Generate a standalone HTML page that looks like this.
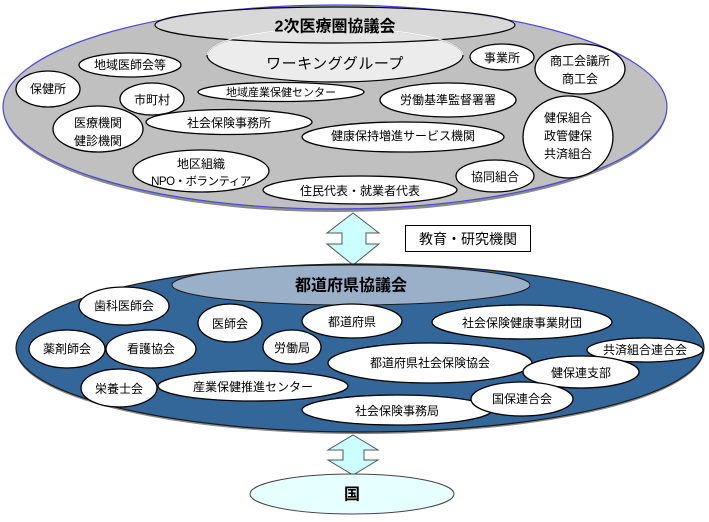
<!DOCTYPE html>
<html><head><meta charset="utf-8"><style>
html,body{margin:0;padding:0;background:#fff;}
svg{display:block;}
text{font-family:"Liberation Sans","Noto Sans CJK JP",sans-serif;fill:#000;}
</style></head><body>
<svg width="709" height="522" viewBox="0 0 709 522" xmlns="http://www.w3.org/2000/svg">
<!-- Top large ellipse -->
<ellipse cx="335" cy="109" rx="332" ry="103" fill="#8a8a8a"/>
<ellipse cx="335" cy="107" rx="332" ry="102" fill="#c0c0c0" stroke="#4a4ad8" stroke-width="1.2"/>
<!-- working group & 2次 -->
<ellipse cx="335" cy="55" rx="128" ry="27" fill="#ececec" stroke="#000" stroke-width="1.2"/>
<ellipse cx="335" cy="25" rx="180" ry="18" fill="#e0e0e0" fill-opacity="0.75" stroke="#000" stroke-width="1.2"/>
<path d="M207,55 A128,27 0 0 1 463,55" fill="none" stroke="#fff" stroke-width="1"/>
<text x="335" y="27" font-size="16" font-weight="bold" text-anchor="middle" dominant-baseline="central">2次医療圏協議会</text>
<text x="335" y="64" font-size="15" text-anchor="middle" dominant-baseline="central" letter-spacing="0.5">ワーキンググループ</text>

<g fill="#fff" stroke="#000" stroke-width="1.3">
<ellipse cx="130" cy="65" rx="51" ry="12"/>
<ellipse cx="48" cy="89" rx="32" ry="18"/>
<ellipse cx="152" cy="99" rx="32" ry="16"/>
<ellipse cx="281" cy="92" rx="83" ry="9.5"/>
<ellipse cx="98" cy="129" rx="45" ry="23"/>
<ellipse cx="229" cy="122" rx="83" ry="12.5"/>
<ellipse cx="403" cy="137" rx="101" ry="15"/>
<ellipse cx="201" cy="171" rx="68" ry="21"/>
<ellipse cx="360" cy="190" rx="97" ry="14"/>
<ellipse cx="448" cy="100" rx="68" ry="17"/>
<ellipse cx="502" cy="57" rx="32" ry="13"/>
<ellipse cx="580" cy="69" rx="45" ry="25"/>
<ellipse cx="568" cy="137" rx="45" ry="41"/>
<ellipse cx="495" cy="176" rx="39" ry="16"/>
</g>
<g font-size="12" text-anchor="middle" dominant-baseline="central">
<text x="130" y="65">地域医師会等</text>
<text x="48" y="89">保健所</text>
<text x="152" y="100">市町村</text>
<text x="281" y="93" font-size="11">地域産業保健センター</text>
<text x="98" y="123">医療機関</text>
<text x="98" y="141">健診機関</text>
<text x="229" y="123">社会保険事務所</text>
<text x="403" y="136">健康保持増進サービス機関</text>
<text x="201" y="164">地区組織</text>
<text x="201" y="182" font-size="11.5" letter-spacing="-0.5">NPO・ボランティア</text>
<text x="360" y="191">住民代表・就業者代表</text>
<text x="448" y="100">労働基準監督署署</text>
<text x="502" y="58">事業所</text>
<text x="580" y="61">商工会議所</text>
<text x="580" y="79">商工会</text>
<text x="568" y="118">健保組合</text>
<text x="568" y="136">政管健保</text>
<text x="568" y="154">共済組合</text>
<text x="495" y="177">協同組合</text>
</g>

<!-- upper double arrow -->
<polygon points="353,213 379,233 366,233 366,244 379,244 353,265 327,244 342,244 342,233 327,233" fill="#ccffff" stroke="#555" stroke-width="1"/>

<!-- 教育・研究機関 box -->
<rect x="405.5" y="225.5" width="125" height="26" fill="#fff" stroke="#000" stroke-width="1"/>
<text x="468" y="239" font-size="14" text-anchor="middle" dominant-baseline="central">教育・研究機関</text>

<!-- bottom large ellipse -->
<ellipse cx="360" cy="350" rx="344" ry="84" fill="#8a8a8a"/>
<ellipse cx="360" cy="348" rx="344" ry="84" fill="#336699" stroke="#1a1a1a" stroke-width="1.2"/>
<ellipse cx="351" cy="285" rx="179" ry="20" fill="#9ab0c8" stroke="#1a1a1a" stroke-width="1"/>
<text x="351" y="286" font-size="16" font-weight="bold" text-anchor="middle" dominant-baseline="central">都道府県協議会</text>

<g fill="#fff" stroke="#000" stroke-width="1.3">
<ellipse cx="124" cy="306" rx="45" ry="19"/>
<ellipse cx="67" cy="349" rx="38" ry="19"/>
<ellipse cx="151" cy="349" rx="45" ry="19"/>
<ellipse cx="119" cy="388" rx="38" ry="19"/>
<ellipse cx="253" cy="386" rx="95" ry="15"/>
<ellipse cx="230" cy="323" rx="32" ry="19"/>
<ellipse cx="292" cy="347" rx="29" ry="17"/>
<ellipse cx="352" cy="321" rx="50" ry="17"/>
<ellipse cx="522" cy="322" rx="90" ry="17"/>
<ellipse cx="430" cy="363" rx="102" ry="20"/>
<ellipse cx="645" cy="350" rx="58" ry="12"/>
<ellipse cx="397" cy="410" rx="95" ry="15"/>
<ellipse cx="581" cy="372" rx="58" ry="16"/>
<ellipse cx="522" cy="399" rx="51" ry="17"/>
</g>
<g font-size="12" text-anchor="middle" dominant-baseline="central">
<text x="124" y="306">歯科医師会</text>
<text x="67" y="349">薬剤師会</text>
<text x="151" y="349">看護協会</text>
<text x="119" y="389">栄養士会</text>
<text x="253" y="387">産業保健推進センター</text>
<text x="230" y="324">医師会</text>
<text x="292" y="348">労働局</text>
<text x="352" y="322">都道府県</text>
<text x="522" y="323">社会保険健康事業財団</text>
<text x="430" y="363">都道府県社会保険協会</text>
<text x="645" y="350">共済組合連合会</text>
<text x="397" y="411">社会保険事務局</text>
<text x="581" y="373">健保連支部</text>
<text x="522" y="399">国保連合会</text>
</g>

<!-- lower double arrow -->
<polygon points="353,435 378,450 364,450 364,460 378,460 353,475 328,460 343,460 343,450 328,450" fill="#ccffff" stroke="#555" stroke-width="1"/>

<!-- 国 -->
<ellipse cx="352" cy="494" rx="102" ry="20" fill="#e6ffff" stroke="#444" stroke-width="1"/>
<text x="352" y="495" font-size="16" font-weight="bold" text-anchor="middle" dominant-baseline="central">国</text>
</svg>
</body></html>
